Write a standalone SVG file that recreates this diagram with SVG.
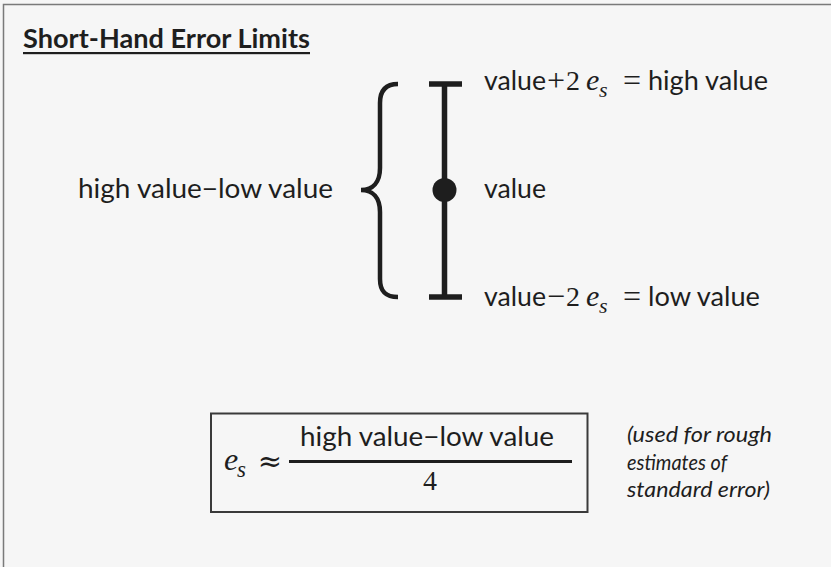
<svg xmlns="http://www.w3.org/2000/svg" width="831" height="567" viewBox="0 0 831 567">
<style>
.sans{font-family:Lato,"Open Sans","Liberation Sans",sans-serif;fill:#1e1e1e}
.lbl{font-size:27px}
.math{font-family:"Liberation Serif","DejaVu Serif",serif;fill:#1e1e1e}
.op{font-size:32px}
.mi{font-style:italic}
.note{font-size:22px;font-style:italic}
.ink{stroke:#1e1e1e;fill:none}
</style>
<rect x="0" y="0" width="831" height="567" fill="#f6f6f6"/>
<rect x="3.5" y="4.5" width="900" height="900" fill="none" stroke="#7a7a7a" stroke-width="1.5"/>

<g id="title">
<text class="sans" x="23" y="48" font-size="26" font-weight="bold" textLength="287" lengthAdjust="spacingAndGlyphs">Short-Hand Error Limits</text>
<rect x="23" y="52" width="287" height="2.2" fill="#1e1e1e"/>
</g>

<g id="range-label">
<text class="sans lbl" x="78" y="198" textLength="255" lengthAdjust="spacingAndGlyphs">high value−low value</text>
</g>

<g id="connectors">
<path class="ink" stroke-width="4.5" d="M398,84 C386,84 380,90 380,103 L380,168 C380,182 373,190 361,190 C373,190 380,198 380,212 L380,279 C380,292 386,297 398,297"/>
<line class="ink" stroke-width="5.5" x1="444.5" y1="84" x2="444.5" y2="297"/>
<line class="ink" stroke-width="5.5" x1="429" y1="84" x2="462" y2="84"/>
<line class="ink" stroke-width="5.5" x1="429" y1="297" x2="462" y2="297"/>
</g>

<g id="value-point">
<circle cx="444.5" cy="190" r="12" fill="#1e1e1e"/>
</g>

<g id="high-label">
<text class="sans lbl" x="484" y="90" textLength="62" lengthAdjust="spacingAndGlyphs">value</text>
<text class="math op" x="556" y="91" text-anchor="middle">+</text>
<text class="math" x="573" y="90" font-size="28" text-anchor="middle">2</text>
<text class="math mi" x="586" y="90" font-size="30">e</text>
<text class="math mi" x="599" y="97" font-size="22">s</text>
<text class="math op" x="632" y="91" text-anchor="middle">=</text>
<text class="sans lbl" x="648" y="90" textLength="120" lengthAdjust="spacingAndGlyphs">high value</text>
</g>

<g id="value-label">
<text class="sans lbl" x="484" y="198" textLength="62" lengthAdjust="spacingAndGlyphs">value</text>
</g>

<g id="low-label">
<text class="sans lbl" x="484" y="306" textLength="62" lengthAdjust="spacingAndGlyphs">value</text>
<text class="math op" x="556" y="307" text-anchor="middle">−</text>
<text class="math" x="573" y="306" font-size="28" text-anchor="middle">2</text>
<text class="math mi" x="586" y="306" font-size="30">e</text>
<text class="math mi" x="599" y="313" font-size="22">s</text>
<text class="math op" x="632" y="307" text-anchor="middle">=</text>
<text class="sans lbl" x="648" y="306" textLength="112" lengthAdjust="spacingAndGlyphs">low value</text>
</g>

<g id="formula">
<rect x="211" y="413.5" width="376.5" height="98.5" fill="none" stroke="#3a3a3a" stroke-width="2"/>
<text class="math mi" x="224" y="470" font-size="32">e</text>
<text class="math mi" x="237" y="477" font-size="23">s</text>
<text x="270" y="471" font-family="'DejaVu Serif','DejaVu Sans',serif" font-size="29" fill="#1e1e1e" text-anchor="middle">≈</text>
<rect x="289" y="460" width="283" height="3" fill="#1e1e1e"/>
<text class="sans lbl" x="300" y="446" textLength="254" lengthAdjust="spacingAndGlyphs">high value−low value</text>
<text class="math" x="430" y="490" font-size="28" text-anchor="middle">4</text>
</g>

<g id="note">
<text class="sans note" x="627" y="442" textLength="145" lengthAdjust="spacingAndGlyphs">(used for rough</text>
<text class="sans note" x="627" y="470" textLength="100" lengthAdjust="spacingAndGlyphs">estimates of</text>
<text class="sans note" x="627" y="497" textLength="143" lengthAdjust="spacingAndGlyphs">standard error)</text>
</g>
</svg>
